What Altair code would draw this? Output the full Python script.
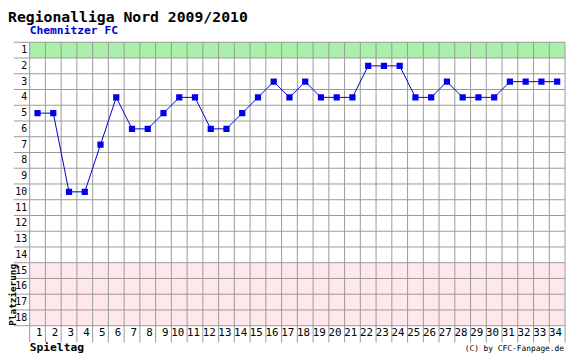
import altair as alt
import pandas as pd

# ---- data ----
days = list(range(1, 35))
positions = [5, 5, 10, 10, 7, 4, 6, 6, 5, 4, 4, 6, 6, 5, 4, 3, 4, 3, 4, 4,
             4, 2, 2, 2, 4, 4, 3, 4, 4, 4, 3, 3, 3, 3]
ranks = list(range(1, 19))
promotion_ranks = [1]
relegation_ranks = [15, 16, 17, 18]

title_text = "Regionalliga Nord 2009/2010"
team_text = "Chemnitzer FC"
x_title = "Spieltag"
y_title = "Platzierung"
credit_text = "(C) by CFC-Fanpage.de"

W, H = 544, 288
MONO = "DejaVu Sans Mono"

xs = alt.Scale(domain=[days[0] - 0.5, days[-1] + 0.5], nice=False, zero=False)
ys = alt.Scale(domain=[ranks[0] - 0.5, ranks[-1] + 0.5], reverse=True, nice=False, zero=False)

df = pd.DataFrame({"day": days, "pos": positions})
bands = pd.DataFrame({
    "y0": [min(promotion_ranks) - 0.5, min(relegation_ranks) - 0.5],
    "y1": [max(promotion_ranks) + 0.5, max(relegation_ranks) + 0.5],
    "kind": ["auf", "ab"],
})
vbound = pd.DataFrame({"b": [d - 0.5 for d in days] + [days[-1] + 0.5]})
hbound = pd.DataFrame({"b": [r - 0.5 for r in ranks] + [ranks[-1] + 0.5]})
rank_df = pd.DataFrame({"r": ranks, "t": [str(r) for r in ranks]})
day_df = pd.DataFrame({"d": days, "t": [str(d) for d in days]})

band_layer = alt.Chart(bands).mark_rect().encode(
    x=alt.value(0), x2=alt.value(W),
    y=alt.Y("y0:Q", scale=ys, axis=None), y2="y1:Q",
    color=alt.Color("kind:N", scale=alt.Scale(domain=["auf", "ab"], range=["#aaf0aa", "#ffe8ec"]), legend=None),
)

vgrid = alt.Chart(vbound).mark_rule(color="#999999", strokeWidth=1).encode(
    x=alt.X("b:Q", scale=xs, axis=None), y=alt.value(0), y2=alt.value(H + 17),
)
hgrid = alt.Chart(hbound).mark_rule(color="#999999", strokeWidth=1).encode(
    y=alt.Y("b:Q", scale=ys, axis=None), x=alt.value(-16), x2=alt.value(W),
)

ylabels = alt.Chart(rank_df).mark_text(align="right", baseline="middle", font=MONO, fontSize=10, color="#000000").encode(
    x=alt.value(-2.5), y=alt.Y("r:Q", scale=ys, axis=None), text="t:N",
)
xlabels = alt.Chart(day_df).mark_text(align="right", baseline="alphabetic", dx=5, font=MONO, fontSize=11, color="#000000").encode(
    x=alt.X("d:Q", scale=xs, axis=None), y=alt.value(298), text="t:N",
)

line = alt.Chart(df).mark_line(color="#0000c0", strokeWidth=1).encode(
    x=alt.X("day:Q", scale=xs, axis=None), y=alt.Y("pos:Q", scale=ys, axis=None),
)
pts = alt.Chart(df).mark_square(color="#0000ee", size=40, opacity=1, filled=True).encode(
    x=alt.X("day:Q", scale=xs, axis=None), y=alt.Y("pos:Q", scale=ys, axis=None),
)

def label(text, x, y, size, bold=True, color="#000000", align="left", angle=0, baseline="alphabetic"):
    kw = dict(align=align, baseline=baseline, font=MONO, fontSize=size,
              fontWeight="bold" if bold else "normal", color=color)
    if angle:
        kw["angle"] = angle
    return alt.Chart(pd.DataFrame({"t": [text]})).mark_text(**kw).encode(
        x=alt.value(x), y=alt.value(y), text="t:N")

texts = [
    label(title_text, -22, -21, 15),
    label(team_text, 0, -8, 11.5, color="#0000cc"),
    label(x_title, 0, 314, 11.5),
    label(credit_text, W - 1, 314, 8, bold=False, align="right"),
    label(y_title, -14, 288, 9.5, angle=270),
]

chart = alt.layer(band_layer, vgrid, hgrid, line, pts, ylabels, xlabels, *texts).properties(
    width=W, height=H,
    padding={"left": 22, "top": 32, "right": 2, "bottom": 30},
    autosize=alt.AutoSizeParams(type="none"),
    background="#ffffff",
).configure_view(stroke=None)

chart.save("out.html", embed_options={"renderer": "svg", "actions": False})
